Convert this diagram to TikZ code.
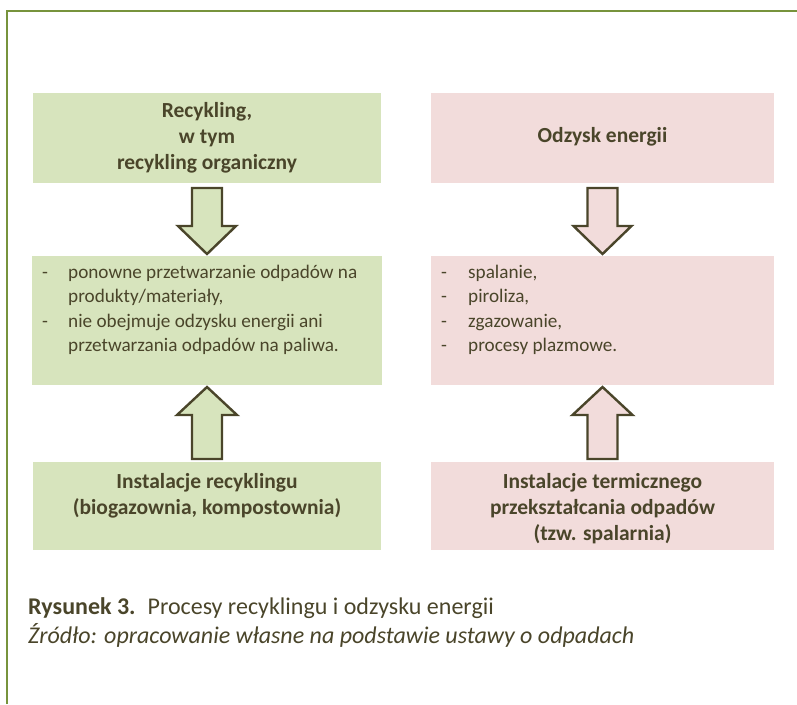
\documentclass[tikz,border=0pt]{standalone}
\usepackage{fontspec}
\setmainfont{Carlito}
\usetikzlibrary{calc}
\definecolor{framegreen}{HTML}{77933C}
\definecolor{ink}{HTML}{4A452A}
\definecolor{gfill}{HTML}{D7E4BD}
\definecolor{pfill}{HTML}{F2DCDB}
\tikzset{
  panel/.style={draw=none, inner sep=0pt, outer sep=0pt},
  headtext/.style={text=ink, inner sep=0pt, anchor=base, font=\fontsize{21.5}{25}\selectfont\bfseries},
  bodytext/.style={text=ink, inner sep=0pt, anchor=base west, font=\fontsize{19.2}{23}\selectfont},
  captext/.style={text=ink, inner sep=0pt, anchor=base west, font=\fontsize{24}{28}\selectfont},
  blockarrow/.style={draw=ink, line width=2.4pt, line join=miter},
}
% block arrow pointing down from #1 to #2
\newcommand\arrowdown[3]{%
  \draw[blockarrow, fill=#3]
    ($(#1.south)+(-15,5)$) -- ($(#1.south)+(15,5)$) --
    ($(#2.north)+(15,-30)$) -- ($(#2.north)+(29,-30)$) --
    ($(#2.north)+(0,-2)$) --
    ($(#2.north)+(-29,-30)$) -- ($(#2.north)+(-15,-30)$) -- cycle;}
% block arrow pointing up from #1 to #2
\newcommand\arrowup[3]{%
  \draw[blockarrow, fill=#3]
    ($(#1.north)+(-15,-3)$) -- ($(#1.north)+(15,-3)$) --
    ($(#2.south)+(15,30)$) -- ($(#2.south)+(30,30)$) --
    ($(#2.south)+(0,2)$) --
    ($(#2.south)+(-30,30)$) -- ($(#2.south)+(-15,30)$) -- cycle;}

\begin{document}
\begin{tikzpicture}[x=1pt, y=-1pt]
\useasboundingbox (0,0) rectangle (797,704);

% outer frame (top and left edges)
\draw[framegreen, line width=2pt] (7,704) -- (7,11) -- (797,11);

% panels
\node[panel, fill=gfill, minimum width=348pt, minimum height=90pt]  (recTop) at (207,138) {};
\node[panel, fill=gfill, minimum width=350pt, minimum height=129pt] (recMid) at (207,320.5) {};
\node[panel, fill=gfill, minimum width=348pt, minimum height=88pt]  (recBot) at (207,506) {};
\node[panel, fill=pfill, minimum width=343pt, minimum height=90pt]  (enTop) at (602.5,138) {};
\node[panel, fill=pfill, minimum width=343pt, minimum height=129pt] (enMid) at (602.5,320.5) {};
\node[panel, fill=pfill, minimum width=343pt, minimum height=88pt]  (enBot) at (602.5,506) {};

% arrows
\arrowdown{recTop}{recMid}{gfill}
\arrowup{recBot}{recMid}{gfill}
\arrowdown{enTop}{enMid}{pfill}
\arrowup{enBot}{enMid}{pfill}

% headings
\node[headtext] (t1) at (207,117) {Recykling,};
\node[headtext] (t2) at (207,143) {w tym};
\node[headtext] (t3) at (207,169) {recykling organiczny};
\node[headtext] (t4) at (602.5,142) {Odzysk energii};
\node[headtext] (b1) at (207,488) {Instalacje recyklingu};
\node[headtext] (b2) at (207,514) {(biogazownia, kompostownia)};
\node[headtext] (b3) at (602.5,488) {Instalacje termicznego};
\node[headtext] (b4) at (602.5,514) {przekształcania odpadów};
\node[headtext] (b5) at (602.5,540) {(tzw. spalarnia)};

% recycling list
\node[bodytext] (d1) at (42,278) {-};
\node[bodytext] (l1) at (68,278) {ponowne przetwarzanie odpadów na};
\node[bodytext] (l2) at (68,302.5) {produkty/materiały,};
\node[bodytext] (d2) at (42,327) {-};
\node[bodytext] (l3) at (68,327) {nie obejmuje odzysku energii ani};
\node[bodytext] (l4) at (68,351.5) {przetwarzania odpadów na paliwa.};

% energy recovery list
\node[bodytext] (e1) at (441,278) {-};
\node[bodytext] (f1) at (468,278) {spalanie,};
\node[bodytext] (e2) at (441,302.5) {-};
\node[bodytext] (f2) at (468,302.5) {piroliza,};
\node[bodytext] (e3) at (441,327) {-};
\node[bodytext] (f3) at (468,327) {zgazowanie,};
\node[bodytext] (e4) at (441,351.5) {-};
\node[bodytext] (f4) at (468,351.5) {procesy plazmowe.};

% caption
\node[captext] (cap1) at (28,614) {\textbf{Rysunek 3.}\hspace{0.5em}Procesy recyklingu i odzysku energii};
\node[captext] (cap2) at (28,643) {\itshape Źródło: opracowanie własne na podstawie ustawy o odpadach};
\end{tikzpicture}
\end{document}
